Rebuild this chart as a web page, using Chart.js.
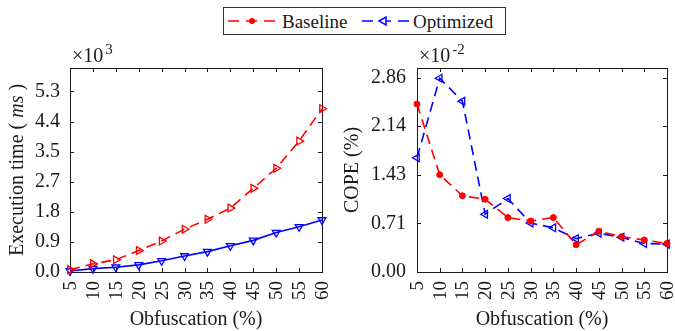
<!DOCTYPE html>
<html>
<head>
<meta charset="utf-8">
<script src="https://cdn.jsdelivr.net/npm/chart.js@4.4.1/dist/chart.umd.min.js"></script>
<style>
  html, body { margin: 0; padding: 0; background: #fff; }
  #wrap { position: relative; width: 675px; height: 331px; overflow: hidden; }
  #c1 { position: absolute; left: 0; top: 0; }
  #c2 { position: absolute; left: 340px; top: 0; }
  #legend { position: absolute; left: 223px; top: 7px; width: 283px; height: 28px; }
</style>
</head>
<body>
<div id="wrap">
  <canvas id="c1" width="340" height="331"></canvas>
  <canvas id="c2" width="335" height="331"></canvas>
  <svg id="legend" width="283" height="28" xmlns="http://www.w3.org/2000/svg">
    <rect x="0.5" y="0.5" width="282" height="27" fill="#fff" stroke="#333" stroke-width="1"/>
    <line x1="5" y1="14" x2="54" y2="14" stroke="#ff0000" stroke-width="1.6" stroke-dasharray="11,7"/>
    <circle cx="29" cy="14" r="3" fill="#ff0000"/>
    <text x="59" y="20.5" font-family="'Liberation Serif', serif" font-size="19" fill="#1a1a1a">Baseline</text>
    <line x1="139" y1="14" x2="187" y2="14" stroke="#0000ff" stroke-width="1.6" stroke-dasharray="11,7"/>
    <polygon points="156,14 163,10 163,18" fill="#fff" stroke="#0000ff" stroke-width="1.5"/>
    <text x="190" y="20.5" font-family="'Liberation Serif', serif" font-size="19" fill="#1a1a1a">Optimized</text>
  </svg>
</div>
<script>
// ---- data ----
var obfuscation = [5, 10, 15, 20, 25, 30, 35, 40, 45, 50, 55, 60];

// execution time, x10^3 ms
var execBaseline  = [0.07, 0.24, 0.36, 0.63, 0.91, 1.26, 1.55, 1.88, 2.46, 3.05, 3.85, 4.80];
var execOptimized = [0.03, 0.10, 0.14, 0.21, 0.33, 0.47, 0.60, 0.77, 0.93, 1.16, 1.33, 1.53];
var execYTicks  = [0, 0.885, 1.77, 2.655, 3.54, 4.425, 5.31];
var execYLabels = ['0.0', '0.9', '1.8', '2.7', '3.5', '4.4', '5.3'];

// COPE, x10^-2 %
var copeBaseline  = [2.47, 1.43, 1.12, 1.07, 0.80, 0.75, 0.80, 0.40, 0.60, 0.52, 0.47, 0.42];
var copeOptimized = [1.68, 2.85, 2.51, 0.85, 1.08, 0.72, 0.65, 0.49, 0.57, 0.51, 0.42, 0.41];
var copeYTicks  = [0, 0.715, 1.43, 2.145, 2.86];
var copeYLabels = ['0.00', '0.71', '1.43', '2.14', '2.86'];

var RED = '#ff0000';
var BLUE = '#0000ff';
var INK = '#1a1a1a';
var SERIF = "'Liberation Serif', 'DejaVu Serif', serif";

function points(ys) {
  return obfuscation.map(function (x, i) { return { x: x, y: ys[i] }; });
}

/* ── frame with inward ticks on all four sides, plus rotated x labels ── */
var framePlugin = {
  id: 'frame',
  beforeDatasetsDraw: function (chart) {
    var ctx = chart.ctx, a = chart.chartArea;
    var xs = chart.scales.x, ys = chart.scales.y;
    var len = 4;
    ctx.save();
    ctx.strokeStyle = INK;
    ctx.lineWidth = 1;
    ctx.strokeRect(Math.round(a.left) + 0.5, Math.round(a.top) + 0.5,
      Math.round(a.right - a.left), Math.round(a.bottom - a.top));
    ctx.beginPath();
    xs.ticks.forEach(function (t) {
      var px = Math.round(xs.getPixelForValue(t.value)) + 0.5;
      ctx.moveTo(px, a.bottom); ctx.lineTo(px, a.bottom - len);
      ctx.moveTo(px, a.top); ctx.lineTo(px, a.top + len);
    });
    ys.ticks.forEach(function (t) {
      var py = Math.round(ys.getPixelForValue(t.value)) + 0.5;
      ctx.moveTo(a.left, py); ctx.lineTo(a.left + len, py);
      ctx.moveTo(a.right, py); ctx.lineTo(a.right - len, py);
    });
    ctx.stroke();

    // x tick labels, reading bottom-to-top
    ctx.fillStyle = INK;
    ctx.font = '19px ' + SERIF;
    ctx.textAlign = 'right';
    ctx.textBaseline = 'middle';
    xs.ticks.forEach(function (t) {
      ctx.save();
      ctx.translate(xs.getPixelForValue(t.value) + 1, a.bottom + 9);
      ctx.rotate(-Math.PI / 2);
      ctx.fillText(String(t.value), 0, 0);
      ctx.restore();
    });
    ctx.restore();
  }
};

/* ── "x10^n" multiplier above the plot ── */
function exponentPlugin(power) {
  return {
    id: 'exponent',
    afterDraw: function (chart) {
      var ctx = chart.ctx, a = chart.chartArea;
      var x = a.left + 2, y = a.top - 6;
      ctx.save();
      ctx.fillStyle = INK;
      ctx.textBaseline = 'alphabetic';
      ctx.font = '20px ' + SERIF;
      ctx.fillText('\u00d710', x, y);
      var w = ctx.measureText('\u00d710').width;
      ctx.font = '15px ' + SERIF;
      ctx.fillText(power, x + w + 2, y - 8);
      ctx.restore();
    }
  };
}

/* ── y title with italic unit (left chart) ── */
var execTitlePlugin = {
  id: 'execTitle',
  afterDraw: function (chart) {
    var ctx = chart.ctx, a = chart.chartArea;
    var parts = [
      { t: 'Execution time ( ', f: '20px ' + SERIF },
      { t: 'ms', f: 'italic 20px ' + SERIF },
      { t: ' )', f: '20px ' + SERIF }
    ];
    ctx.save();
    var total = 0;
    parts.forEach(function (p) { ctx.font = p.f; p.w = ctx.measureText(p.t).width; total += p.w; });
    ctx.translate(18, (a.top + a.bottom) / 2);
    ctx.rotate(-Math.PI / 2);
    ctx.fillStyle = INK;
    ctx.textBaseline = 'middle';
    var cx = -total / 2;
    parts.forEach(function (p) { ctx.font = p.f; ctx.fillText(p.t, cx, 0); cx += p.w; });
    ctx.restore();
  }
};

function makeChart(canvasId, opts) {
  return new Chart(document.getElementById(canvasId), {
    type: 'line',
    data: { datasets: opts.datasets },
    options: {
      responsive: false,
      animation: false,
      layout: { padding: { left: 0, right: opts.padRight, top: 68, bottom: 0 } },
      plugins: { legend: { display: false }, tooltip: { enabled: false } },
      scales: {
        x: {
          type: 'linear',
          min: 5,
          max: 60,
          grid: { display: false, drawTicks: false },
          border: { display: false },
          afterBuildTicks: function (scale) {
            scale.ticks = obfuscation.map(function (v) { return { value: v }; });
          },
          afterFit: function (scale) { scale.height = 59; },
          ticks: { display: false },
          title: {
            display: true, text: 'Obfuscation (%)', color: INK,
            font: { family: SERIF, size: 20, lineHeight: 1.1 },
            padding: { top: 0, bottom: 0 }
          }
        },
        y: {
          min: 0,
          max: opts.yMax,
          grid: { display: false, drawTicks: false },
          border: { display: false },
          afterBuildTicks: function (scale) {
            scale.ticks = opts.yTicks.map(function (v) { return { value: v }; });
          },
          afterFit: function (scale) { scale.width = opts.yWidth; },
          ticks: {
            padding: opts.yPad, color: INK, font: { family: SERIF, size: 20 },
            callback: function (v, i) { return opts.yLabels[i]; }
          },
          title: opts.yTitle
        }
      }
    },
    plugins: opts.plugins
  });
}

makeChart('c1', {
  padRight: 18, yWidth: 70, yPad: 10, yMax: 6.0,
  yTicks: execYTicks, yLabels: execYLabels,
  yTitle: { display: false },
  plugins: [framePlugin, exponentPlugin('3'), execTitlePlugin],
  datasets: [
    {
      label: 'Baseline', data: points(execBaseline),
      borderColor: RED, borderWidth: 1.6, borderDash: [10, 6],
      pointStyle: 'triangle', rotation: 90, radius: 4.5,
      pointBorderColor: RED, pointBackgroundColor: 'rgba(255,255,255,0)', pointBorderWidth: 1.3,
      clip: false
    },
    {
      label: 'Optimized', data: points(execOptimized),
      borderColor: BLUE, borderWidth: 1.6,
      pointStyle: 'triangle', rotation: 180, radius: 4.5,
      pointBorderColor: BLUE, pointBackgroundColor: 'rgba(255,255,255,0)', pointBorderWidth: 1.3,
      clip: false
    }
  ]
});

makeChart('c2', {
  padRight: 8, yWidth: 77, yPad: 11, yMax: 3.0,
  yTicks: copeYTicks, yLabels: copeYLabels,
  yTitle: {
    display: true, text: 'COPE (%)', color: INK,
    font: { family: SERIF, size: 20, lineHeight: 1.1 },
    padding: { top: 2, bottom: 0 }
  },
  plugins: [framePlugin, exponentPlugin('-2')],
  datasets: [
    {
      label: 'Baseline', data: points(copeBaseline),
      borderColor: RED, borderWidth: 1.6, borderDash: [10, 6],
      pointStyle: 'circle', radius: 3,
      pointBorderColor: RED, pointBackgroundColor: RED, pointBorderWidth: 1,
      clip: false
    },
    {
      label: 'Optimized', data: points(copeOptimized),
      borderColor: BLUE, borderWidth: 1.6, borderDash: [10, 6],
      pointStyle: 'triangle', rotation: 270, radius: 4.5,
      pointBorderColor: BLUE, pointBackgroundColor: 'rgba(255,255,255,0)', pointBorderWidth: 1.3,
      clip: false
    }
  ]
});
</script>
</body>
</html>
